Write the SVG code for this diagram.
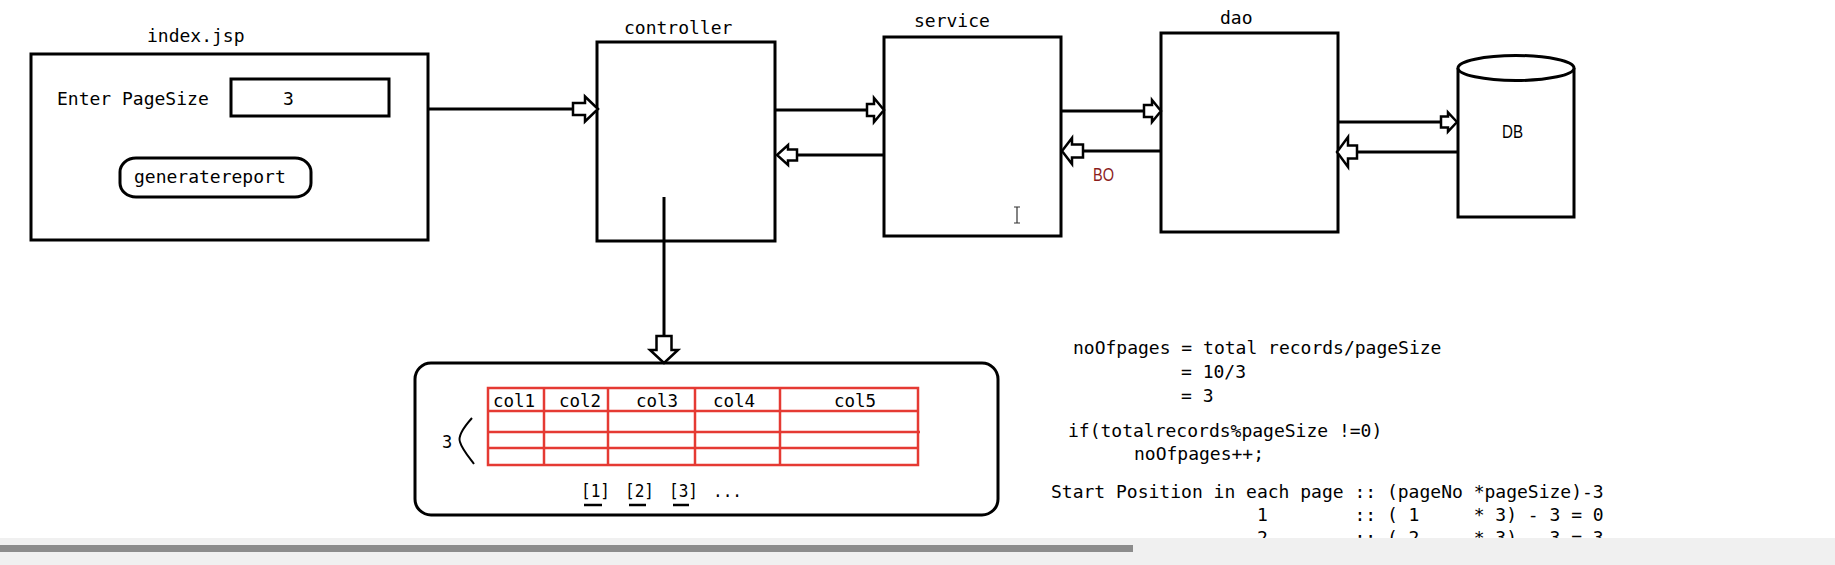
<svg xmlns="http://www.w3.org/2000/svg" width="1835" height="565" viewBox="0 0 1835 565">
<style>
.box{fill:#fff;stroke:#000;stroke-width:3}
.ln{stroke:#000;stroke-width:3;fill:none}
.ah{fill:#fff;stroke:#000;stroke-width:2.5;stroke-linejoin:miter}
.mono{font-family:"DejaVu Sans Mono","Liberation Mono",monospace;font-size:18px;fill:#000}
.col{font-family:"DejaVu Sans Mono","Liberation Mono",monospace;font-size:17.5px;fill:#000}
.sm{font-family:"DejaVu Sans Mono","Liberation Mono",monospace;font-size:17px;fill:#000}
.sans{font-family:"Liberation Sans",Arial,sans-serif;font-size:18px}
.red{stroke:#E53A33;stroke-width:2.5;fill:none}
.pre{white-space:pre}
</style>
<rect x="0" y="0" width="1835" height="565" fill="#fff"/>

<g id="index">
<text class="mono" x="147" y="42">index.jsp</text>
<rect class="box" x="31" y="54" width="397" height="186"/>
<text class="mono" x="57" y="105">Enter PageSize</text>
<rect class="box" x="231" y="79" width="158" height="37"/>
<text class="mono" x="283" y="105">3</text>
<rect class="box" x="120" y="158" width="191" height="39" rx="16" ry="14"/>
<text class="mono" x="134" y="183">generatereport</text>
</g>

<g id="controller">
<text class="mono" x="624" y="34">controller</text>
<rect class="box" x="597" y="42" width="178" height="199"/>
</g>

<g id="service">
<text class="mono" x="914" y="27">service</text>
<rect class="box" x="884" y="37" width="177" height="199"/>
</g>

<g id="dao">
<text class="mono" x="1220" y="24">dao</text>
<rect class="box" x="1161" y="33" width="177" height="199"/>
</g>

<g id="db">
<path class="box" d="M1458,68 L1458,217 L1574,217 L1574,68"/>
<ellipse class="box" cx="1516" cy="68" rx="58" ry="12.5"/>
<text class="sans" x="1502" y="138" fill="#000" textLength="21" lengthAdjust="spacingAndGlyphs">DB</text>
</g>

<g id="report">
<rect class="box" x="415" y="363" width="583" height="152" rx="16" ry="16"/>
<rect class="red" x="488" y="388" width="430" height="77"/>
<line class="red" x1="488" y1="411" x2="918" y2="411"/>
<line class="red" x1="488" y1="432" x2="920" y2="432"/>
<line class="red" x1="488" y1="448" x2="918" y2="448"/>
<line class="red" x1="544" y1="388" x2="544" y2="465"/>
<line class="red" x1="608" y1="388" x2="608" y2="465"/>
<line class="red" x1="695" y1="387" x2="695" y2="465"/>
<line class="red" x1="780" y1="387" x2="780" y2="465"/>
<text class="col" x="493" y="407">col1</text>
<text class="col" x="559" y="407">col2</text>
<text class="col" x="636" y="407">col3</text>
<text class="col" x="713" y="407">col4</text>
<text class="col" x="834" y="407">col5</text>
<text class="sm" x="442" y="448">3</text>
<path d="M472,418 C463,428 458,437 460,442 C462,449 468,456 474,464" fill="none" stroke="#000" stroke-width="2"/>
<text class="sm" x="581" y="497" textLength="29" lengthAdjust="spacingAndGlyphs">[1]</text>
<text class="sm" x="625" y="497" textLength="29" lengthAdjust="spacingAndGlyphs">[2]</text>
<text class="sm" x="669" y="497" textLength="29" lengthAdjust="spacingAndGlyphs">[3]</text>
<text class="sm" x="713" y="497" textLength="29" lengthAdjust="spacingAndGlyphs">...</text>
<line x1="584" y1="505" x2="602" y2="505" stroke="#000" stroke-width="2.5"/>
<line x1="629" y1="505" x2="646" y2="505" stroke="#000" stroke-width="2.5"/>
<line x1="673" y1="505" x2="689" y2="505" stroke="#000" stroke-width="2.5"/>
</g>

<g id="connectors">
<line class="ln" x1="428" y1="109" x2="573" y2="109"/>
<path class="ah" d="M598,109 L585,96.5 L585,103 L573,103 L573,115 L585,115 L585,121.5 Z"/>
<line class="ln" x1="775" y1="110" x2="867" y2="110"/>
<path class="ah" d="M884,110 L874,98 L874,104 L867,104 L867,116 L874,116 L874,122 Z"/>
<line class="ln" x1="797" y1="155" x2="884" y2="155"/>
<path class="ah" d="M777,155 L788,145 L788,149.5 L797,149.5 L797,160.5 L788,160.5 L788,165 Z"/>
<line class="ln" x1="1061" y1="111" x2="1144" y2="111"/>
<path class="ah" d="M1161,111 L1152,100 L1152,105 L1144,105 L1144,117 L1152,117 L1152,122 Z"/>
<line class="ln" x1="1083" y1="151" x2="1161" y2="151"/>
<path class="ah" d="M1062,151 L1072,138 L1072,144.5 L1083,144.5 L1083,157.5 L1072,157.5 L1072,164 Z"/>
<text class="sans" x="1093" y="181" fill="#8B1C1C" textLength="21" lengthAdjust="spacingAndGlyphs">BO</text>
<line class="ln" x1="1338" y1="122" x2="1441" y2="122"/>
<path class="ah" d="M1457,122 L1448,112.5 L1448,116.5 L1441,116.5 L1441,127.5 L1448,127.5 L1448,131.5 Z"/>
<line class="ln" x1="1357" y1="152" x2="1458" y2="152"/>
<path class="ah" d="M1337,152 L1348,137 L1348,145.5 L1357,145.5 L1357,158.5 L1348,158.5 L1348,167 Z"/>
<line class="ln" x1="664" y1="197" x2="664" y2="336"/>
<path class="ah" d="M664,363 L650,350 L656.5,350 L656.5,336 L671.5,336 L671.5,350 L678,350 Z"/>
</g>

<path d="M1014,207 L1020,207 M1017,207 L1017,223 M1014,223 L1020,223" fill="none" stroke="#333" stroke-width="1.2"/>

<g id="notes">
<text class="mono pre" x="1073" y="354" xml:space="preserve">noOfpages = total records/pageSize</text>
<text class="mono pre" x="1181" y="378" xml:space="preserve">= 10/3</text>
<text class="mono pre" x="1181" y="402" xml:space="preserve">= 3</text>
<text class="mono pre" x="1068" y="437" xml:space="preserve">if(totalrecords%pageSize !=0)</text>
<text class="mono pre" x="1134" y="460" xml:space="preserve">noOfpages++;</text>
<text class="mono pre" x="1051" y="498" xml:space="preserve">Start Position in each page :: (pageNo *pageSize)-3</text>
<text class="mono pre" x="1051" y="521" xml:space="preserve">                   1        :: ( 1     * 3) - 3 = 0</text>
<text class="mono pre" x="1051" y="544" xml:space="preserve">                   2        :: ( 2     * 3) - 3 = 3</text>
</g>

<rect x="0" y="538" width="1835" height="27" fill="#F0F0F0"/>
<rect x="0" y="545" width="1133" height="7" fill="#8C8C8C"/>
</svg>
